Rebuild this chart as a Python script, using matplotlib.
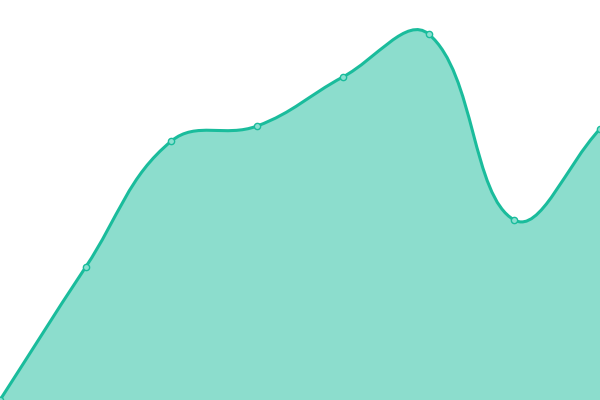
import numpy as np
import matplotlib
matplotlib.use("Agg")
import matplotlib.pyplot as plt
from matplotlib.path import Path
from matplotlib.patches import PathPatch

# values (y axis 0..400, no labels shown)
labels = ["A", "B", "C", "D", "E", "F", "G", "H"]
values = [0, 133, 259, 274, 323, 366, 180, 271]

LINE = "#1abc9c"
TENSION = 0.4


def spline_controls(pts, t=TENSION):
    "Chart.js style control points for each point (in pixel space)"
    n = len(pts)
    ctrl = []
    for i in range(n):
        prev = pts[max(i - 1, 0)]
        cur = pts[i]
        nxt = pts[min(i + 1, n - 1)]
        d01 = np.hypot(*(cur - prev))
        d12 = np.hypot(*(nxt - cur))
        tot = d01 + d12
        s01 = d01 / tot if tot else 0
        s12 = d12 / tot if tot else 0
        fa, fb = t * s01, t * s12
        ctrl.append((cur - fa * (nxt - prev), cur + fb * (nxt - prev)))
    return ctrl


fig = plt.figure(figsize=(6, 4), dpi=100)
ax = fig.add_axes([0, 0, 1, 1])
x = np.arange(len(values))
ax.set_xlim(0, len(values) - 1)
ax.set_ylim(0, 400)
ax.axis("off")

pix = ax.transData.transform(np.column_stack([x, values]))
ctrl = spline_controls(pix)
inv = ax.transData.inverted()

verts = [pix[0]]
codes = [Path.MOVETO]
for i in range(1, len(pix)):
    verts += [ctrl[i - 1][1], ctrl[i][0], pix[i]]
    codes += [Path.CURVE4] * 3
verts = inv.transform(np.array(verts))

line_path = Path(verts, codes)
fill_verts = np.vstack([verts, [[x[-1], 0], [x[0], 0], verts[0]]])
fill_codes = codes + [Path.LINETO, Path.LINETO, Path.CLOSEPOLY]
fill_path = Path(fill_verts, fill_codes)

ax.add_patch(PathPatch(fill_path, facecolor=LINE, alpha=0.5, edgecolor="none"))
ax.add_patch(PathPatch(line_path, facecolor="none", edgecolor=LINE, lw=2.2, capstyle="round"))
ax.plot(x, values, "o", ms=4.5, mfc="#8ae0d0", mec=LINE, mew=1.0, clip_on=True)

fig.savefig("out.png", dpi=100)
